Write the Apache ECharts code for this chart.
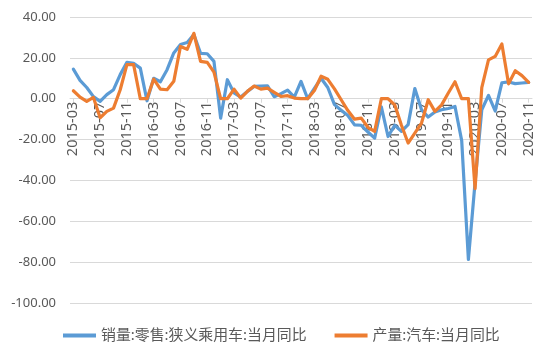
<!DOCTYPE html>
<html>
<head>
<meta charset="utf-8">
<script src="https://cdn.jsdelivr.net/npm/echarts@6/dist/echarts.min.js"></script>
<style>html,body{margin:0;padding:0;background:#fff;}#c{width:550px;height:358px;}</style>
</head>
<body>
<div id="c"></div>
<script>
const categories = [
"2015-03","2015-04","2015-05","2015-06","2015-07","2015-08","2015-09","2015-10","2015-11","2015-12",
"2016-01","2016-02","2016-03","2016-04","2016-05","2016-06","2016-07","2016-08","2016-09","2016-10","2016-11","2016-12",
"2017-01","2017-02","2017-03","2017-04","2017-05","2017-06","2017-07","2017-08","2017-09","2017-10","2017-11","2017-12",
"2018-01","2018-02","2018-03","2018-04","2018-05","2018-06","2018-07","2018-08","2018-09","2018-10","2018-11","2018-12",
"2019-01","2019-02","2019-03","2019-04","2019-05","2019-06","2019-07","2019-08","2019-09","2019-10","2019-11","2019-12",
"2020-01","2020-02","2020-03","2020-04","2020-05","2020-06","2020-07","2020-08","2020-09","2020-10","2020-11"
];
const seriesNames = ["销量:零售:狭义乘用车:当月同比", "产量:汽车:当月同比"];
const retailYoY = [
14.5, 9.0, 5.5, 1.0, -1.3, 2.0, 4.4, 11.8, 17.8, 17.3,
15.0, -1.0, 10.0, 8.3, 14.2, 22.4, 26.5, 27.5, 31.4, 22.2, 22.0, 18.3,
-9.5, 9.3, 2.8, 0.8, 3.6, 6.0, 6.2, 6.3, 1.0, 2.5, 4.2, 0.8,
8.5, 0.0, 5.0, 10.0, 5.5, -2.9, -5.6, -8.2, -12.8, -13.0, -16.3, -19.3,
-4.0, -18.5, -13.0, -16.0, -12.7, 5.0, -5.4, -9.0, -6.5, -5.4, -4.8, -3.8,
-20.5, -78.7, -40.8, -5.4, 1.6, -6.0, 7.8, 8.2, 7.4, 7.7, 8.0
];
const productionYoY = [
3.9, 0.8, -1.3, 0.6, -9.3, -6.2, -4.6, 4.4, 16.7, 16.7,
0, 0, 9.6, 4.7, 4.4, 8.5, 25.6, 24.2, 32.0, 18.3, 17.8, 13.0,
0, 0, 4.7, 0.3, 3.6, 6.2, 4.7, 5.2, 3.1, 1.1, 1.5, 0.3,
0, 0, 4.0, 11.0, 9.5, 4.8, -0.5, -5.8, -10.0, -9.5, -14.0, -16.0,
0, 0, -3.0, -13.0, -21.7, -16.8, -11.9, -0.5, -6.2, -3.0, 2.8, 8.3,
0, 0, -44.0, 5.4, 19.0, 20.7, 26.8, 7.3, 13.7, 11.3, 8.0
];
const yMin = -100, yMax = 40, yStep = 20;

const gridTop = 17, gridBottom = 55, chartH = 358;
const plotH = chartH - gridTop - gridBottom;
// shift the category axis up from the grid bottom to the zero line of the value axis
const zeroOffset = -plotH * (0 - yMin) / (yMax - yMin);

const chart = echarts.init(document.getElementById('c'), null, {renderer: 'canvas'});
const textColor = '#595959';
const gridColor = '#d9d9d9';
const fontFam = '"Noto Sans", "Noto Sans CJK SC", sans-serif';
chart.setOption({
  animation: false,
  backgroundColor: '#ffffff',
  grid: {left: 70, right: 18, top: gridTop, bottom: gridBottom, containLabel: false},
  legend: {
    data: seriesNames,
    left: 58, top: 323,
    icon: 'rect', itemWidth: 33, itemHeight: 4, itemGap: 28,
    textStyle: {color: textColor, fontSize: 14.9, fontFamily: fontFam}
  },
  xAxis: {
    type: 'category',
    data: categories,
    boundaryGap: true,
    position: 'bottom',
    offset: zeroOffset,
    axisLine: {onZero: false, lineStyle: {color: gridColor, width: 1}},
    axisTick: {show: true, alignWithLabel: true, interval: 3, length: 4, lineStyle: {color: gridColor}},
    axisLabel: {interval: 3, rotate: 90, margin: 3, color: textColor, fontSize: 14.5, fontFamily: fontFam},
    splitLine: {show: false}
  },
  yAxis: {
    type: 'value',
    min: yMin, max: yMax, interval: yStep,
    axisLine: {show: false},
    axisTick: {show: false},
    axisLabel: {margin: 14, color: textColor, fontSize: 13, fontFamily: fontFam,
      formatter: v => v.toFixed(2)},
    splitLine: {lineStyle: {color: gridColor, width: 1}}
  },
  series: [
    {name: seriesNames[0], type: 'line', data: retailYoY, showSymbol: false, symbol: 'none',
     lineStyle: {color: '#5B9BD5', width: 3.2, join: 'round', cap: 'round'}, itemStyle: {color: '#5B9BD5'}},
    {name: seriesNames[1], type: 'line', data: productionYoY, showSymbol: false, symbol: 'none',
     lineStyle: {color: '#ED7D31', width: 3.2, join: 'round', cap: 'round'}, itemStyle: {color: '#ED7D31'}}
  ]
});
</script>
</body>
</html>
